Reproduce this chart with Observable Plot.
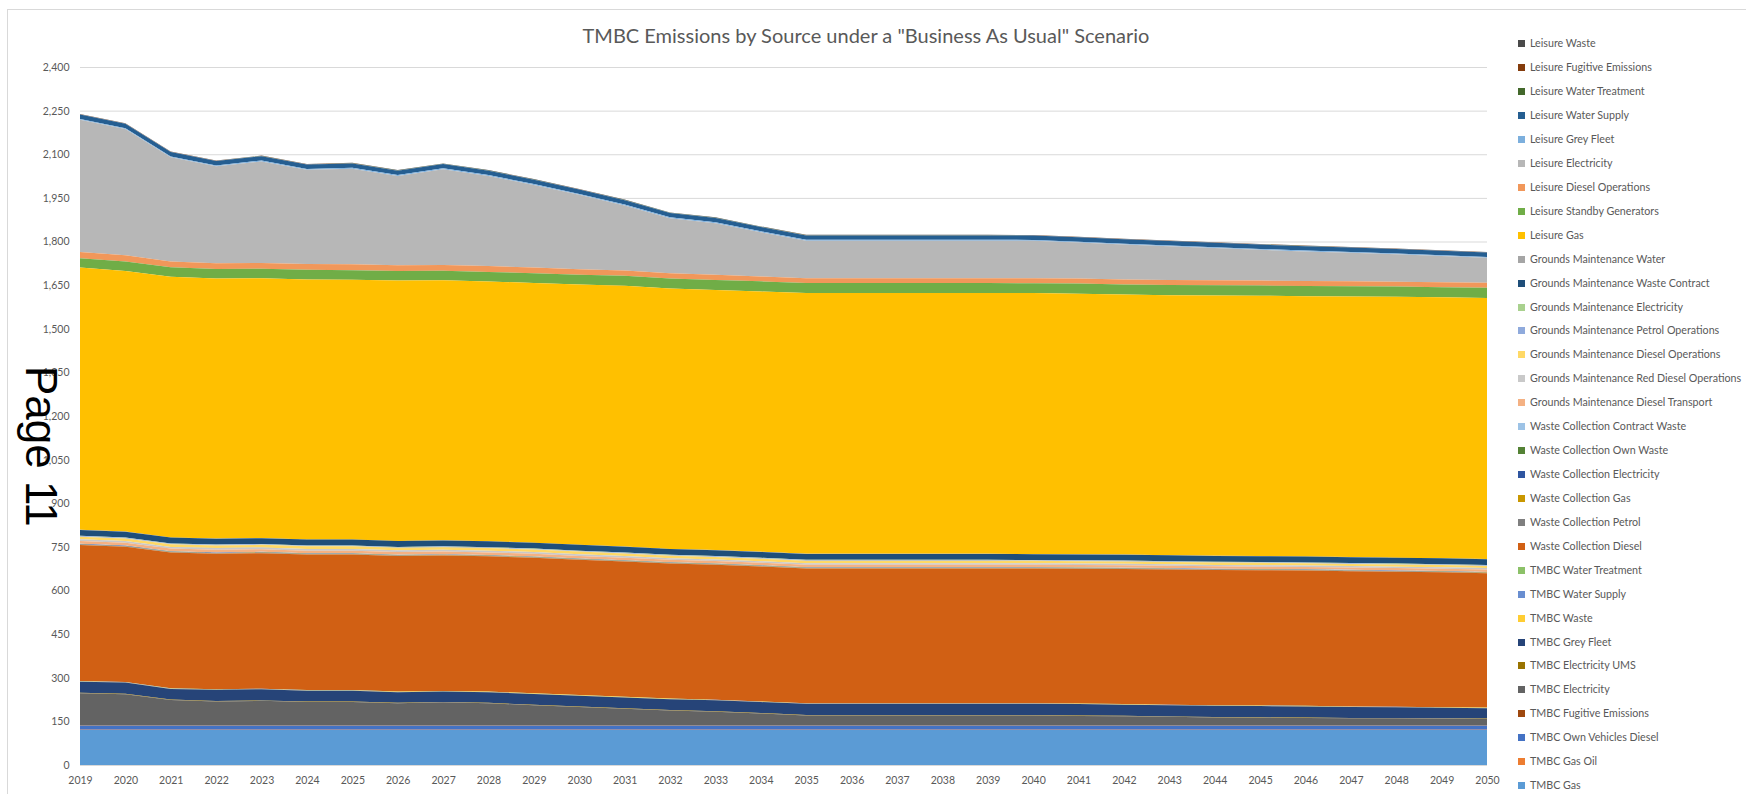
<!DOCTYPE html>
<html><head><meta charset="utf-8">
<script src="https://cdn.jsdelivr.net/npm/d3@7"></script>
<script src="https://cdn.jsdelivr.net/npm/@observablehq/plot@0.6"></script>
<style>
body{margin:0;background:#fff;}
#wrap{position:relative;width:1746px;height:794px;overflow:hidden;font-family:Lato,sans-serif;background:#fff;}
#border{position:absolute;left:7px;top:9px;width:1800px;height:900px;border-left:1px solid #D9D9D9;border-top:1px solid #D9D9D9;box-sizing:border-box;}
#chart{position:absolute;left:0;top:0;}
#title{position:absolute;left:0;width:1732px;top:23px;text-align:center;font-size:20px;line-height:24px;color:#595959;white-space:nowrap;}
.item{position:absolute;left:1518px;white-space:nowrap;font-size:10.7px;color:#595959;height:14px;line-height:14px;}
.sw{display:inline-block;width:7px;height:7px;margin-right:5px;vertical-align:0px;}
#page{position:absolute;left:63px;top:366px;transform-origin:0 0;transform:rotate(90deg);font-family:"Liberation Sans",Arial,sans-serif;font-size:44px;line-height:1;color:#000;white-space:nowrap;}
</style></head>
<body><div id="wrap"><div id="border"></div><div id="chart"></div>
<div id="title">TMBC Emissions by Source under a "Business As Usual" Scenario</div>
<div id="legend"></div>
<div id="page">Page 11</div>
</div>
<script>
const years = [2019,2020,2021,2022,2023,2024,2025,2026,2027,2028,2029,2030,2031,2032,2033,2034,2035,2036,2037,2038,2039,2040,2041,2042,2043,2044,2045,2046,2047,2048,2049,2050];
const yTicks = [0,150,300,450,600,750,900,1050,1200,1350,1500,1650,1800,1950,2100,2250,2400];

// Legend order (top of legend = top of stack)
const seriesNames = ["Leisure Waste","Leisure Fugitive Emissions","Leisure Water Treatment","Leisure Water Supply","Leisure Grey Fleet","Leisure Electricity","Leisure Diesel Operations","Leisure Standby Generators","Leisure Gas","Grounds Maintenance Water","Grounds Maintenance Waste Contract","Grounds Maintenance Electricity","Grounds Maintenance Petrol Operations","Grounds Maintenance Diesel Operations","Grounds Maintenance Red Diesel Operations","Grounds Maintenance Diesel Transport","Waste Collection Contract Waste","Waste Collection Own Waste","Waste Collection Electricity","Waste Collection Gas","Waste Collection Petrol","Waste Collection Diesel","TMBC Water Treatment","TMBC Water Supply","TMBC Waste","TMBC Grey Fleet","TMBC Electricity UMS","TMBC Electricity","TMBC Fugitive Emissions","TMBC Own Vehicles Diesel","TMBC Gas Oil","TMBC Gas"];
const seriesColors = ["#4A4A4A","#843C0C","#43682B","#255E91","#7CAFDD","#B7B7B7","#F1975A","#70AD47","#FFC000","#A5A5A5","#1F4E79","#A9D18E","#8FAADC","#FFD966","#C9C9C9","#F4B183","#9DC3E6","#548235","#2F55A0","#C99700","#7F7F7F","#D16014","#8CC168","#698ED0","#FFCD33","#264478","#997300","#636363","#9E480E","#4472C4","#ED7D31","#5B9BD5"];

const leisureWaste = [1,1,1,1,1,1,1,1,1,1,1,1,1,1,1,1,1,1,1,1,1,1,1,1,1,1,1,1,1,1,1,1];
const leisureFugitive = [0.5,0.5,0.5,0.5,0.5,0.5,0.5,0.5,0.5,0.5,0.5,0.5,0.5,0.5,0.5,0.5,0.5,0.5,0.5,0.5,0.5,0.5,0.5,0.5,0.5,0.5,0.5,0.5,0.5,0.5,0.5,0.5];
const leisureWaterTreatment = [0.5,0.5,0.5,0.5,0.5,0.5,0.5,0.5,0.5,0.5,0.5,0.5,0.5,0.5,0.5,0.5,0.5,0.5,0.5,0.5,0.5,0.5,0.5,0.5,0.5,0.5,0.5,0.5,0.5,0.5,0.5,0.5];
const leisureWaterSupply = [15,15,15,15,15,15,15,15,15,15,15,15,15,15,15,15,15,15,15,15,15,15,15,15,15,15,15,15,15,15,15,15];
const leisureGreyFleet = [3,3,3,3,3,3,3,3,3,3,3,3,3,3,3,3,3,3,3,3,3,3,3,3,3,3,3,3,3,3,3,3];
const leisureElectricity = [455,434,358,333,349,324,329,307,329,310,284,256,224,189,177,152,129,129,129,129,129,129,124,120,116,111,106,102,98,94,90,86];
const leisureDiesel = [21,21,20,20,20,20,20,20,20,20,20,19,18,18,18,17,17,17,17,17,17,17,17,17,17,17,17,17,17,17,17,17];
const leisureStandby = [32,33,33,33,33,33,33,33,33,33,33,33,34,35,35,35,34,34,34,34,34,34,35,35,35,35,35,35,35,35,35,35];
const leisureGas = [902,896,896,894,893,894,893,895,894,893,893,895,897,895,894,895,897,897,897,897,897,897,896,894,894,895,895,895,896,897,897,898];
const gmWater = [0.5,0.5,0.5,0.5,0.5,0.5,0.5,0.5,0.5,0.5,0.5,0.5,0.5,0.5,0.5,0.5,0.5,0.5,0.5,0.5,0.5,0.5,0.5,0.5,0.5,0.5,0.5,0.5,0.5,0.5,0.5,0.5];
const gmWasteContract = [20,20,20,20,20,20,20,20,20,20,20,20,20,20,20,20,20,20,20,20,20,20,20,20,20,20,20,20,20,20,20,20];
const gmElectricity = [1,1,1,1,1,1,1,1,1,1,1,1,1,1,1,1,1,1,1,1,1,1,1,1,1,1,1,1,1,1,1,1];
const gmPetrol = [2,2,2,2,2,2,2,2,2,2,2,2,2,2,2,2,2,2,2,2,2,2,2,2,2,2,2,2,2,2,2,2];
const gmDieselOps = [9,9,9,9,9,9,9,9,9,9,9,9,8.5,8.5,8.5,8.5,8.5,8.5,8.5,8.5,8.5,8,8,8,8,8,8,7.5,7.5,7.5,7.5,7.5];
const gmRedDiesel = [6,6,6,6,6,6,6,6,6,6,6,6,6,5.5,5.5,5.5,5.5,5.5,5.5,5.5,5.5,5.5,5.5,5.5,5,5,5,5,5,5,5,5];
const gmDieselTransport = [9,9,9,9,9,9,9,9,9,9,9,9,9,8.5,8.5,8.5,8.5,8.5,8.5,8.5,8.5,8.5,8.5,8.5,8,8,8,8,8,8,8,8];
const wcContractWaste = [1,1,1,1,1,1,1,1,1,1,1,1,1,1,1,1,1,1,1,1,1,1,1,1,1,1,1,1,1,1,1,1];
const wcOwnWaste = [0.5,0.5,0.5,0.5,0.5,0.5,0.5,0.5,0.5,0.5,0.5,0.5,0.5,0.5,0.5,0.5,0.5,0.5,0.5,0.5,0.5,0.5,0.5,0.5,0.5,0.5,0.5,0.5,0.5,0.5,0.5,0.5];
const wcElectricity = [1,1,1,1,1,1,1,1,1,1,1,1,1,1,1,1,1,1,1,1,1,1,1,1,1,1,1,1,1,1,1,1];
const wcGas = [1,1,1,1,1,1,1,1,1,1,1,1,1,1,1,1,1,1,1,1,1,1,1,1,1,1,1,1,1,1,1,1];
const wcPetrol = [1,1,1,1,1,1,1,1,1,1,1,1,1,1,1,1,1,1,1,1,1,1,1,1,1,1,1,1,1,1,1,1];
const wcDiesel = [468,465,467,466,466,466,466,466,466,465,466,465,465,464,464,464,463,463,463,463,463,463,463,464,465,465,465,465,465,464,464,462];
const tmbcWaterTreatment = [0.5,0.5,0.5,0.5,0.5,0.5,0.5,0.5,0.5,0.5,0.5,0.5,0.5,0.5,0.5,0.5,0.5,0.5,0.5,0.5,0.5,0.5,0.5,0.5,0.5,0.5,0.5,0.5,0.5,0.5,0.5,0.5];
const tmbcWaterSupply = [0.5,0.5,0.5,0.5,0.5,0.5,0.5,0.5,0.5,0.5,0.5,0.5,0.5,0.5,0.5,0.5,0.5,0.5,0.5,0.5,0.5,0.5,0.5,0.5,0.5,0.5,0.5,0.5,0.5,0.5,0.5,0.5];
const tmbcWaste = [1,1,1,1,1,1,1,1,1,1,1,1,1,1,1,1,1,1,1,1,1,1,1,1,1,1,1,1,1,1,1,1];
const tmbcGreyFleet = [38.5,38.5,36.5,38.5,38.5,37.5,37.5,36.5,35.5,36.5,37.5,37.5,37.5,37.5,37.5,37.5,38.5,38.5,38.5,38.5,38.5,38.5,39.5,38.5,38.5,38.5,38.5,38.5,37.5,36.5,35.5,35.5];
const tmbcElectricityUMS = [1.5,1.5,1.5,1.5,1.5,1.5,1.5,1.5,1.5,1.5,1.5,1.5,1.5,1.5,1.5,1.5,1.5,1.5,1.5,1.5,1.5,1.5,1.5,1.5,1.5,1.5,1.5,1.5,1.5,1.5,1.5,1.5];
const tmbcElectricity = [111,108,88,83,85,81,81,77,80,77,70,64,58,52,48,42,35,35,35,35,35,35,33,32,30,28,27,26,25,25,24,23];
const tmbcFugitive = [0.5,0.5,0.5,0.5,0.5,0.5,0.5,0.5,0.5,0.5,0.5,0.5,0.5,0.5,0.5,0.5,0.5,0.5,0.5,0.5,0.5,0.5,0.5,0.5,0.5,0.5,0.5,0.5,0.5,0.5,0.5,0.5];
const tmbcOwnVehiclesDiesel = [14,14,14,14,14,14,14,14,14,14,14,14,14,14,14,14,14,14,14,14,14,14,14,14,14,14,14,14,14,14,14,14];
const tmbcGasOil = [1,1,1,1,1,1,1,1,1,1,1,1,1,1,1,1,1,1,1,1,1,1,1,1,1,1,1,1,1,1,1,1];
const tmbcGas = [120,120,120,120,120,120,120,120,120,120,120,120,120,120,120,120,120,120,120,120,120,120,120,120,120,120,120,120,120,120,120,120];

const seriesValues = [leisureWaste,leisureFugitive,leisureWaterTreatment,leisureWaterSupply,leisureGreyFleet,leisureElectricity,leisureDiesel,leisureStandby,leisureGas,gmWater,gmWasteContract,gmElectricity,gmPetrol,gmDieselOps,gmRedDiesel,gmDieselTransport,wcContractWaste,wcOwnWaste,wcElectricity,wcGas,wcPetrol,wcDiesel,tmbcWaterTreatment,tmbcWaterSupply,tmbcWaste,tmbcGreyFleet,tmbcElectricityUMS,tmbcElectricity,tmbcFugitive,tmbcOwnVehiclesDiesel,tmbcGasOil,tmbcGas];

const data = [];
seriesNames.forEach((name, i) => {
  seriesValues[i].forEach((v, j) => data.push({year: years[j], series: name, value: v}));
});
const bottomUp = seriesNames.slice().reverse();

const chart = Plot.plot({
  width: 1746, height: 794,
  marginLeft: 80, marginRight: 259, marginTop: 67, marginBottom: 29,
  style: {fontFamily: "Lato, sans-serif", fontSize: "10.5px", color: "#595959", background: "transparent", overflow: "visible"},
  x: {domain: [2019, 2050], ticks: years, tickFormat: d => String(d), tickSize: 0, tickPadding: 11, label: null},
  y: {domain: [0, 2400], ticks: yTicks, tickFormat: d3.format(","), tickSize: 0, tickPadding: 11, label: null},
  color: {domain: seriesNames, range: seriesColors},
  marks: [
    Plot.ruleY(yTicks, {stroke: "#D9D9D9", strokeWidth: 1}),
    Plot.areaY(data, {x: "year", y: "value", fill: "series", order: bottomUp, curve: "linear"})
  ]
});
document.getElementById("chart").appendChild(chart);

const legend = document.getElementById("legend");
seriesNames.forEach((name, i) => {
  const d = document.createElement("div");
  d.className = "item";
  d.style.top = (43.3 + i * 23.93 - 7) + "px";
  const s = document.createElement("span");
  s.className = "sw";
  s.style.background = seriesColors[i];
  d.appendChild(s);
  d.appendChild(document.createTextNode(name));
  legend.appendChild(d);
});
</script>
</body></html>
